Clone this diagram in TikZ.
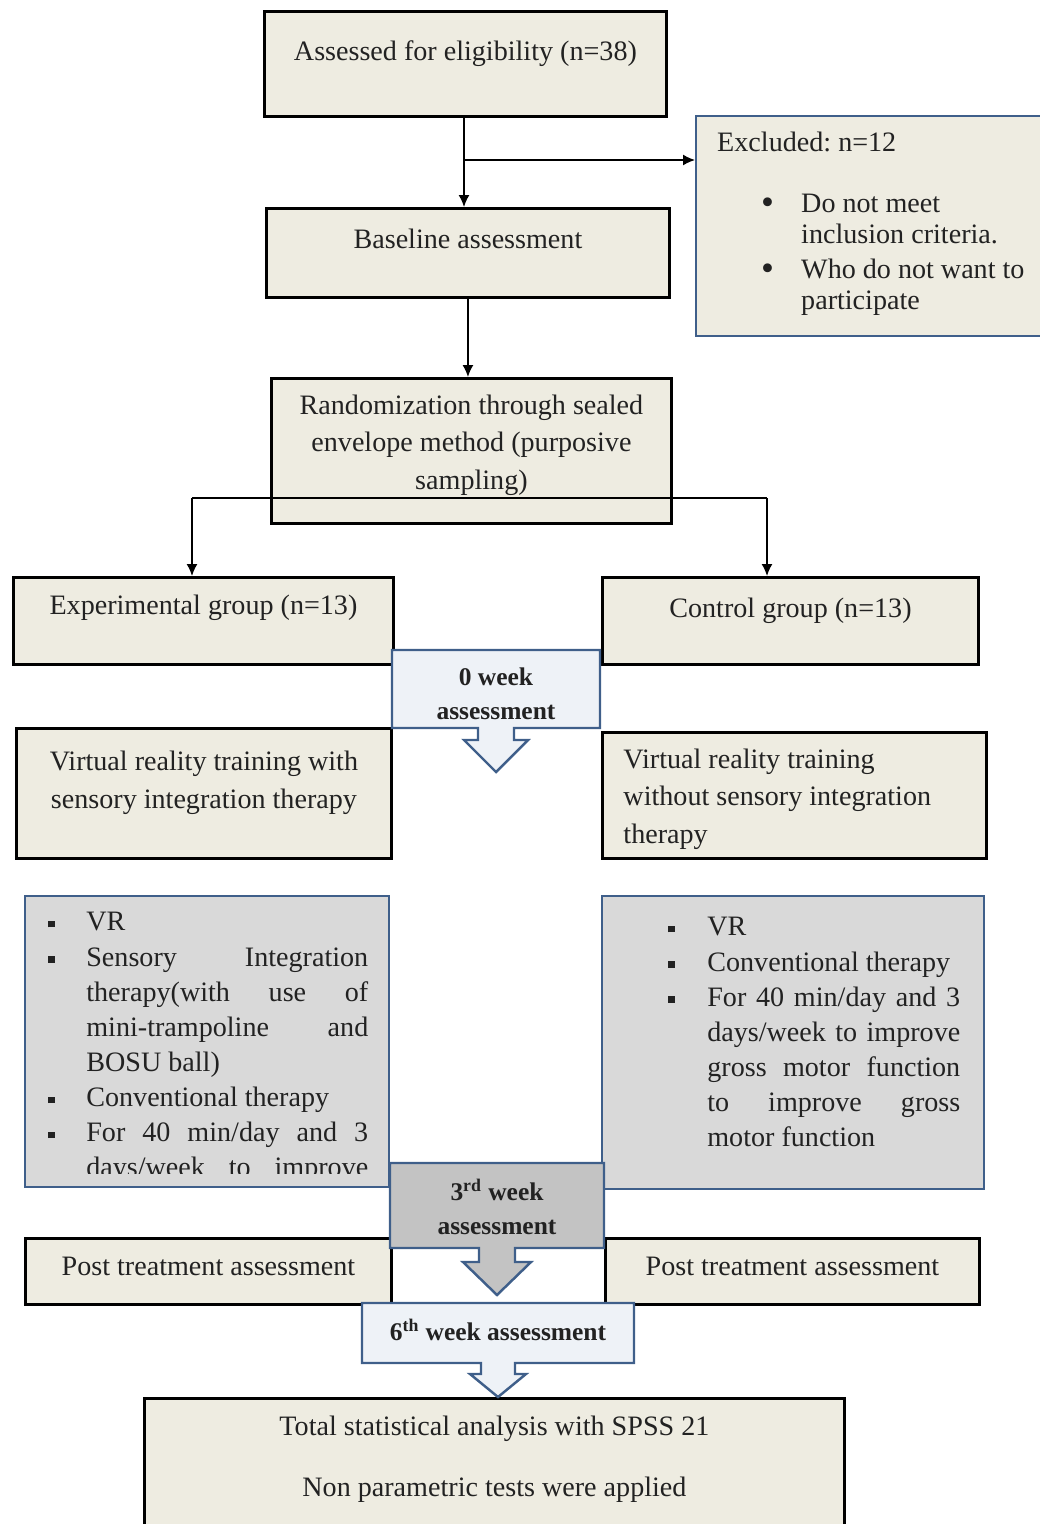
\documentclass[tikz,border=0pt]{standalone}
\usepackage{fontspec}
\setmainfont{Liberation Serif}
\usepackage{tikz}
\usetikzlibrary{arrows.meta,positioning}
\frenchspacing

\definecolor{boxbeige}{HTML}{EEECE1}
\definecolor{listgrey}{HTML}{D9D9D9}
\definecolor{edgeblue}{HTML}{3F5F8A}
\definecolor{calloutlight}{HTML}{EEF2F7}
\definecolor{calloutgrey}{HTML}{C3C3C3}
\definecolor{inkgrey}{HTML}{222222}

% text set at the top of a box of fixed size
\newcommand{\boxtext}[5]{\parbox[c][#1][t]{#2}{\vspace*{#3}#4\strut #5}}
\newcommand{\sqbullet}{\rule[2pt]{3.6pt}{3.6pt}}
\newcommand{\dotbullet}{\raisebox{-1.5pt}{\fontsize{21}{21}\selectfont\textbullet}}
\newcommand{\sqitem}[2]{\par\noindent\hangindent=#1\hangafter=1\makebox[#1][l]{\sqbullet}#2}
% rectangle with a hollow arrow below it
\newcommand{\downcallout}[9]{%
  \draw[#1] (#2,#3) -- (#4,#3) -- (#4,#5) -- ({(#2+#4)/2+#6},#5) -- ({(#2+#4)/2+#6},#8)
    -- ({(#2+#4)/2+#7},#8) -- ({(#2+#4)/2},#9) -- ({(#2+#4)/2-#7},#8)
    -- ({(#2+#4)/2-#6},#8) -- ({(#2+#4)/2-#6},#5) -- (#2,#5) -- cycle;}

\tikzset{
  box/.style={draw=black, line width=1.7pt, fill=boxbeige, inner sep=0pt, anchor=north west},
  bluebox/.style={box, draw=edgeblue, line width=1.4pt},
  listbox/.style={bluebox, fill=listgrey},
  listtext/.style={inner sep=0pt, anchor=north west, align=justify},
  callout/.style={draw=edgeblue, line width=1.4pt, fill=calloutlight, line join=miter},
  greycallout/.style={callout, fill=calloutgrey},
  calltext/.style={font=\bfseries\fontsize{14.5}{19.4}\selectfont, align=center, inner sep=0pt},
  connector/.style={line width=0.85pt},
  flow/.style={connector, -{Latex[length=0.24cm, width=0.22cm]}},
}

\begin{document}
\begin{tikzpicture}[x=0.02cm, y=-0.02cm, font=\fontsize{16}{20}\selectfont, text=inkgrey]
	\clip (0,0) rectangle (1040,1524);

	\node[box] (assess) at (263,10) {\boxtext{2.1cm}{8.04cm}{0.49cm}{\centering}{Assessed for eligibility (n=38)}};
	\node[bluebox, font=\fontsize{16}{17.6}\selectfont] (excl) at (695,115) {\boxtext{4.4cm}{6.92cm}{0.27cm}{\raggedright\leftskip=0.42cm}{Excluded: n=12\\[17.1pt]
		\hspace*{0.88cm}\makebox[0.8cm][l]{\dotbullet}Do not meet\\
		\hspace*{1.68cm}inclusion criteria.\\[2.3pt]
		\hspace*{0.88cm}\makebox[0.8cm][l]{\dotbullet}Who do not want to\\
		\hspace*{1.68cm}participate}};
	\node[box] (base) at (265,207) {\boxtext{1.78cm}{8.06cm}{0.31cm}{\centering}{Baseline assessment}};
	\node[box, font=\fontsize{16}{21.3}\selectfont] (rand) at (270,377) {\boxtext{2.9cm}{8cm}{0.19cm}{\centering}{Randomization through sealed\\ envelope method (purposive\\ sampling)}};

	\node[box] (exp) at (12,576) {\boxtext{1.74cm}{7.6cm}{0.25cm}{\centering}{Experimental group (n=13)}};
	\node[box] (ctrl) at (601,576) {\boxtext{1.74cm}{7.52cm}{0.31cm}{\centering}{Control group (n=13)}};

	\node[box, font=\fontsize{16}{21.6}\selectfont] (vrsi) at (15,727) {\boxtext{2.6cm}{7.5cm}{0.31cm}{\centering}{Virtual reality training with\\ sensory integration therapy}};
	\node[box, font=\fontsize{16}{21.3}\selectfont] (vrno) at (601,731) {\boxtext{2.52cm}{7.68cm}{0.19cm}{\raggedright\leftskip=0.42cm}{Virtual reality training\\ without sensory integration\\ therapy}};

	% treatment contents
	\node[listbox, minimum width=7.28cm, minimum height=5.82cm] (exptask) at (24,895) {};
	\begin{scope}
		\clip (24,895) rectangle (388,1173);
		\node[listtext, text width=6.4cm] (explist) at (48,895.4) {\tolerance=10000\hbadness=10000
			\sqitem{0.76cm}{\strut VR}
			\sqitem{0.76cm}{Sensory Integration\linebreak therapy(with use of\linebreak mini-trampoline and\linebreak BOSU ball)}
			\sqitem{0.76cm}{Conventional therapy}
			\sqitem{0.76cm}{For 40 min/day and 3\linebreak days/week to improve}\parfillskip=0pt\par};
	\end{scope}
	\node[listbox, minimum width=7.64cm, minimum height=5.86cm] (ctrltask) at (601,895) {};
	\node[listtext, text width=5.84cm] (ctrllist) at (668,900.4) {\tolerance=10000\hbadness=10000
		\sqitem{0.78cm}{\strut VR}
		\sqitem{0.78cm}{Conventional therapy}
		\sqitem{0.78cm}{For 40 min/day and 3\linebreak days/week to improve\linebreak gross motor function\linebreak to improve gross\linebreak motor function}\par};

	\node[box] (post1) at (24,1237) {\boxtext{1.32cm}{7.32cm}{0.25cm}{\centering}{Post treatment assessment}};
	\node[box] (post2) at (604,1237) {\boxtext{1.32cm}{7.48cm}{0.25cm}{\centering}{Post treatment assessment}};
	\node[box] (total) at (143,1397) {\boxtext{2.8cm}{14cm}{0.25cm}{\centering}{Total statistical analysis with SPSS 21\\[14.7pt] Non parametric tests were applied}};

	% connectors
	\coordinate (split) at (464,160);
	\draw[connector] (split |- assess.south) -- (split);
	\draw[flow] (split) -- (split |- base.north);
	\draw[flow] (split) -- (split -| excl.west);
	\draw[flow] (base.south) -- (base.south |- rand.north);
	\coordinate (forkL) at (192,498);
	\coordinate (forkR) at (767,498);
	\draw[connector] (forkL) -- (forkR);
	\draw[flow] (forkL) -- (forkL |- exp.north);
	\draw[flow] (forkR) -- (forkR |- ctrl.north);

	% assessment callouts
	\downcallout{callout}{392}{650}{600}{728}{18}{32}{740}{772}
	\node[calltext] (wk0) at (496,694) {0 week\\assessment};
	\downcallout{greycallout}{390}{1163}{604}{1248}{18}{34}{1262}{1295}
	\node[calltext] (wk3) at (497,1207) {3\textsuperscript{rd} week\\assessment};
	\downcallout{callout}{362}{1303}{634}{1363}{17}{28}{1374}{1397}
	\node[calltext] (wk6) at (498,1330) {6\textsuperscript{th} week assessment};
\end{tikzpicture}
\end{document}
